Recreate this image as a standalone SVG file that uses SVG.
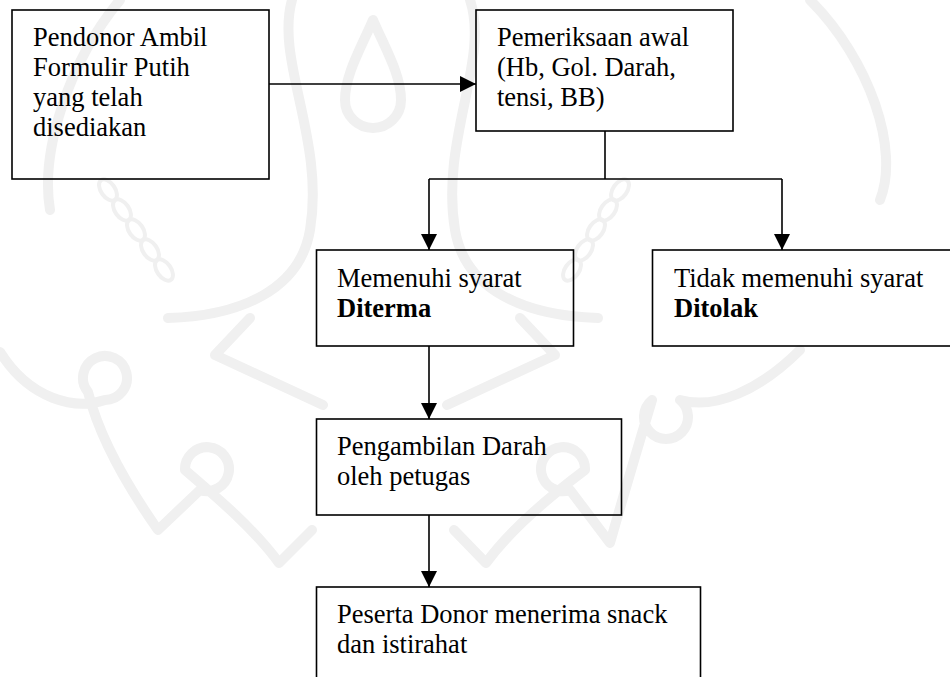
<svg xmlns="http://www.w3.org/2000/svg" width="950" height="677" viewBox="0 0 950 677">
  <style>
    .box { fill: none; stroke: #000; stroke-width: 1.6; }
    .lbl { font-family: "Liberation Serif", "Times New Roman", serif; font-size: 26.5px; fill: #000; }
    .b { font-weight: bold; }
    .wire { fill: none; stroke: #000; stroke-width: 1.6; }
    .wm { fill: none; stroke: #f0f0f0; stroke-width: 10; stroke-linecap: round; stroke-linejoin: round; }
    .wmt { fill: none; stroke: #f0f0f0; stroke-width: 4; }
  </style>
  <defs>
    <marker id="arrow" markerUnits="userSpaceOnUse" markerWidth="16" markerHeight="16" refX="16" refY="8" orient="auto">
      <path d="M0,0 L16,8 L0,16 z" fill="#000"/>
    </marker>
  </defs>

  <rect width="950" height="677" fill="#fff"/>

  <!-- faint background emblem -->
  <g id="watermark">
    <path class="wm" d="M373,20 C360,50 345,75 345,100 A28,28 0 0 0 401,100 C401,75 386,50 373,20 z"/>
    <path class="wm" d="M292,0 C275,60 325,140 310,230 C300,290 240,316 168,318"/>
    <path class="wm" d="M470,0 C490,60 440,140 455,230 C465,290 525,316 598,318"/>
    <path class="wm" d="M250,318 L215,355 L323,405"/>
    <path class="wm" d="M520,318 L555,355 L447,405"/>
    <path class="wm" d="M0,352 C30,400 75,410 105,400 A22,22 0 1 0 88,392 C100,440 130,490 158,530 L200,490 A22,22 0 1 0 185,470 C220,500 255,530 279,563 L312,530"/>
    <path class="wm" d="M800,350 C760,390 715,410 680,400 A22,22 0 1 1 652,400 C640,440 625,490 610,543 L570,490 A22,22 0 1 1 585,470 C545,500 510,530 486,563 L454,530"/>
    <path class="wm" d="M810,0 C870,60 900,150 880,200"/>
    <path class="wm" d="M120,0 C70,60 40,150 50,210"/>
    <g class="wmt">
      <ellipse cx="108" cy="190" rx="7" ry="12" transform="rotate(-35 108 190)"/>
      <ellipse cx="122" cy="210" rx="7" ry="12" transform="rotate(-35 122 210)"/>
      <ellipse cx="136" cy="230" rx="7" ry="12" transform="rotate(-35 136 230)"/>
      <ellipse cx="150" cy="250" rx="7" ry="12" transform="rotate(-35 150 250)"/>
      <ellipse cx="164" cy="270" rx="7" ry="12" transform="rotate(-35 164 270)"/>
      <ellipse cx="620" cy="190" rx="7" ry="12" transform="rotate(35 620 190)"/>
      <ellipse cx="608" cy="210" rx="7" ry="12" transform="rotate(35 608 210)"/>
      <ellipse cx="596" cy="230" rx="7" ry="12" transform="rotate(35 596 230)"/>
      <ellipse cx="584" cy="250" rx="7" ry="12" transform="rotate(35 584 250)"/>
      <ellipse cx="572" cy="270" rx="7" ry="12" transform="rotate(35 572 270)"/>
    </g>
  </g>

  <!-- connectors -->
  <g id="connectors">
    <path class="wire" d="M269,84 H476" marker-end="url(#arrow)"/>
    <path class="wire" d="M605,131 V179"/>
    <path class="wire" d="M429,179 H782"/>
    <path class="wire" d="M429,179 V250" marker-end="url(#arrow)"/>
    <path class="wire" d="M782,179 V250" marker-end="url(#arrow)"/>
    <path class="wire" d="M429,346 V419" marker-end="url(#arrow)"/>
    <path class="wire" d="M429,515 V587" marker-end="url(#arrow)"/>
  </g>

  <g id="node-pendonor">
    <rect class="box" x="12" y="10" width="257" height="169"/>
    <text class="lbl" x="33" y="46">Pendonor Ambil</text>
    <text class="lbl" x="33" y="76">Formulir Putih</text>
    <text class="lbl" x="33" y="106">yang telah</text>
    <text class="lbl" x="33" y="136">disediakan</text>
  </g>

  <g id="node-pemeriksaan">
    <rect class="box" x="476" y="10" width="257" height="121"/>
    <text class="lbl" x="497" y="46">Pemeriksaan awal</text>
    <text class="lbl" x="497" y="76">(Hb, Gol. Darah,</text>
    <text class="lbl" x="497" y="106">tensi, BB)</text>
  </g>

  <g id="node-diterima">
    <rect class="box" x="316.5" y="250" width="257" height="96"/>
    <text class="lbl" x="337" y="287">Memenuhi syarat</text>
    <text class="lbl b" x="337" y="317">Diterma</text>
  </g>

  <g id="node-ditolak">
    <rect class="box" x="652.5" y="250" width="310" height="96"/>
    <text class="lbl" x="674" y="287">Tidak memenuhi syarat</text>
    <text class="lbl b" x="674" y="317">Ditolak</text>
  </g>

  <g id="node-pengambilan">
    <rect class="box" x="316.5" y="419" width="305" height="96"/>
    <text class="lbl" x="337" y="455">Pengambilan Darah</text>
    <text class="lbl" x="337" y="485">oleh petugas</text>
  </g>

  <g id="node-peserta">
    <rect class="box" x="316.5" y="587" width="384" height="110"/>
    <text class="lbl" x="337" y="623">Peserta Donor menerima snack</text>
    <text class="lbl" x="337" y="653">dan istirahat</text>
  </g>
</svg>
